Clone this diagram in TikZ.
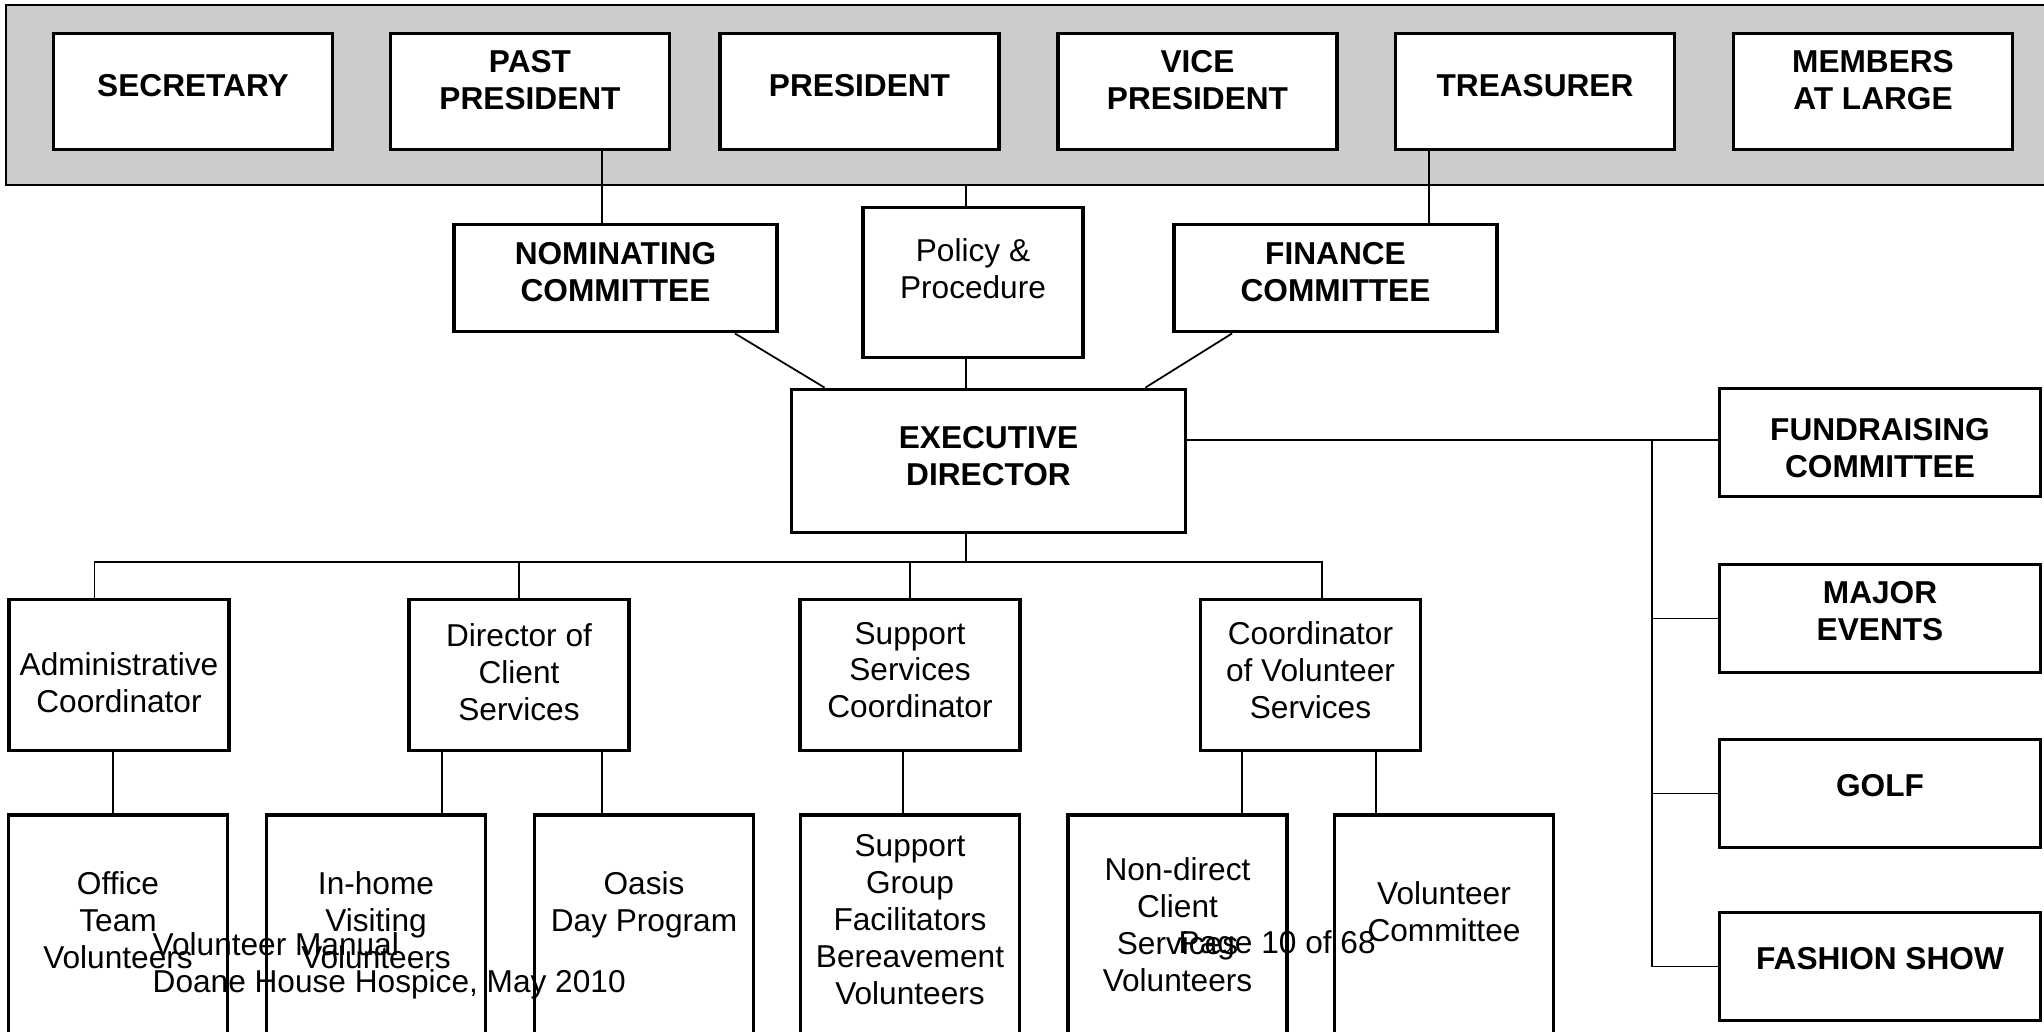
\documentclass[tikz,border=0pt]{standalone}
\usepackage{fontspec}
\setmainfont{Liberation Sans}

\tikzset{
  orgbox/.style={draw, line width=1.1pt, fill=white, inner sep=0pt},
  boardbox/.style={orgbox, minimum width=27.9mm, minimum height=11.6mm},
  cmtbox/.style={orgbox, minimum width=32.3mm, minimum height=10.7mm},
  eventbox/.style={orgbox, minimum width=32.1mm, minimum height=10.8mm},
  staffbox/.style={orgbox, minimum width=22mm, minimum height=15.1mm},
  teambox/.style={orgbox, minimum width=21.9mm, minimum height=23mm},
  capstxt/.style={font=\bfseries\fontsize{9}{10.5}\selectfont, align=center, inner sep=0pt},
  plaintxt/.style={font=\fontsize{9}{10.5}\selectfont, align=center, inner sep=0pt},
  link/.style={line width=0.5pt},
}

\begin{document}
\begin{tikzpicture}[x=0.1mm, y=-0.1mm]
    \useasboundingbox (0,0) rectangle (2044,1031);
    \clip (0,0) rectangle (2044,1031);
    % board
    \node[draw, fill=black!20, line width=0.6pt, inner sep=0pt, minimum width=205.4mm, minimum height=18mm] (board) at (1033,95) {};
    \node[boardbox, label={[capstxt,yshift=0.55mm]center:SECRETARY}] (sec) at (193,91.5) {};
    \node[boardbox, label={[capstxt,yshift=1.15mm]center:PAST\\PRESIDENT}] (past) at (530,91.5) {};
    \node[boardbox, label={[capstxt,yshift=0.55mm]center:PRESIDENT}] (pres) at (859.5,91.5) {};
    \node[boardbox, label={[capstxt,yshift=1.15mm]center:VICE\\PRESIDENT}] (vice) at (1197.5,91.5) {};
    \node[boardbox, label={[capstxt,yshift=0.55mm]center:TREASURER}] (treas) at (1535,91.5) {};
    \node[boardbox, label={[capstxt,yshift=1.15mm]center:MEMBERS\\AT LARGE}] (members) at (1873,91.5) {};
    % committees
    \node[cmtbox, label={[capstxt,yshift=0.55mm]center:NOMINATING\\COMMITTEE}] (nomin) at (615.5,278) {};
    \node[staffbox, minimum height=15mm, label={[plaintxt,yshift=1.35mm]center:Policy \&\\Procedure}] (policy) at (973,282.5) {};
    \node[cmtbox, label={[capstxt,yshift=0.55mm]center:FINANCE\\COMMITTEE}] (fin) at (1335.5,278) {};
    \node[orgbox, minimum width=39.4mm, minimum height=14.3mm, label={[capstxt,yshift=0.45mm]center:EXECUTIVE\\DIRECTOR}] (exec) at (988.5,461) {};
    % fundraising side
    \node[eventbox, label={[capstxt,yshift=-0.6mm]center:FUNDRAISING\\COMMITTEE}] (fund) at (1880,442.5) {};
    \node[eventbox, label={[capstxt,yshift=0.75mm]center:MAJOR\\EVENTS}] (major) at (1880,618.5) {};
    \node[eventbox, label={[capstxt,yshift=0.75mm]center:GOLF}] (golf) at (1880,793.5) {};
    \node[eventbox, label={[capstxt,yshift=0.75mm]center:FASHION SHOW}] (fashion) at (1880,966.5) {};
    % staff
    \node[staffbox, label={[plaintxt,yshift=-0.8mm]center:Administrative\\Coordinator}] (admin) at (119,675) {};
    \node[staffbox, label={[plaintxt,yshift=0.25mm]center:Director of\\Client\\Services}] (dir) at (519,675) {};
    \node[staffbox, label={[plaintxt,yshift=0.5mm]center:Support\\Services\\Coordinator}] (supp) at (910,675) {};
    \node[staffbox, label={[plaintxt,yshift=0.45mm]center:Coordinator\\of Volunteer\\Services}] (coord) at (1310.5,675) {};
    % volunteer teams
    \node[teambox, label={[plaintxt,yshift=0.95mm]center:Office\\Team\\Volunteers}] (office) at (118,930) {};
    \node[teambox, label={[plaintxt,yshift=0.95mm]center:In-home\\Visiting\\Volunteers}] (inhome) at (376,930) {};
    \node[teambox, label={[plaintxt,yshift=2.5mm]center:Oasis\\Day Program}] (oasis) at (644,930) {};
    \node[teambox, label={[plaintxt,yshift=1.05mm]center:Support\\Group\\Facilitators\\Bereavement\\Volunteers}] (sgroup) at (910,930) {};
    \node[teambox, label={[plaintxt,yshift=0.5mm]center:Non-direct\\Client\\Services\\Volunteers}] (nondirect) at (1177.5,930) {};
    \node[teambox, label={[plaintxt,yshift=1.8mm]center:Volunteer\\Committee}] (volcomm) at (1444,930) {};
    % connectors
    \coordinate (bus) at (966,562);
    \coordinate (evtbus) at (1652,440);
    \draw[link] ([xshift=-1.35mm]nomin.north) -- ([xshift=-1.35mm]nomin.north |- past.south);
    \draw[link] ([xshift=-10.6mm]treas.south) -- ([xshift=-10.6mm]treas.south |- fin.north);
    \draw[link] (board.south -| bus) -- (policy.north -| bus);
    \draw[link] (policy.south -| bus) -- (exec.north -| bus);
    \draw[link] ([xshift=-4.4mm]nomin.south east) -- ([xshift=3.5mm]exec.north west);
    \draw[link] ([xshift=6mm]fin.south west) -- ([xshift=-4.2mm]exec.north east);
    \draw[link] (exec.east |- evtbus) -- (fund.west |- evtbus);
    \draw[link] (evtbus) |- (fashion.west);
    \draw[link] (evtbus |- major.west) -- (major.west);
    \draw[link] (evtbus |- golf.west) -- (golf.west);
    \draw[link] (exec.south -| bus) -- (bus);
    \draw[link] ([xshift=-2.45mm]admin.north) |- (bus) -| ([xshift=1.15mm]coord.north);
    \draw[link] (dir.north) -- (dir.north |- bus);
    \draw[link] (supp.north) -- (supp.north |- bus);
    \draw[link] ([xshift=-0.5mm]office.north) -- ([xshift=-0.5mm]office.north |- admin.south);
    \draw[link] ([xshift=6.6mm]inhome.north) -- ([xshift=6.6mm]inhome.north |- dir.south);
    \draw[link] ([xshift=-4.2mm]oasis.north) -- ([xshift=-4.2mm]oasis.north |- dir.south);
    \draw[link] ([xshift=-0.7mm]sgroup.north) -- ([xshift=-0.7mm]sgroup.north |- supp.south);
    \draw[link] ([xshift=6.45mm]nondirect.north) -- ([xshift=6.45mm]nondirect.north |- coord.south);
    \draw[link] ([xshift=-6.8mm]volcomm.north) -- ([xshift=-6.8mm]volcomm.north |- coord.south);
    % page footer
    \node[plaintxt, anchor=base west] (manual) at (152,955) {Volunteer Manual};
    \node[plaintxt, anchor=base west] (hospice) at (152,992) {Doane House Hospice, May 2010};
    \node[plaintxt, anchor=base west] (page) at (1178,953) {Page 10 of 68};
\end{tikzpicture}
\end{document}
